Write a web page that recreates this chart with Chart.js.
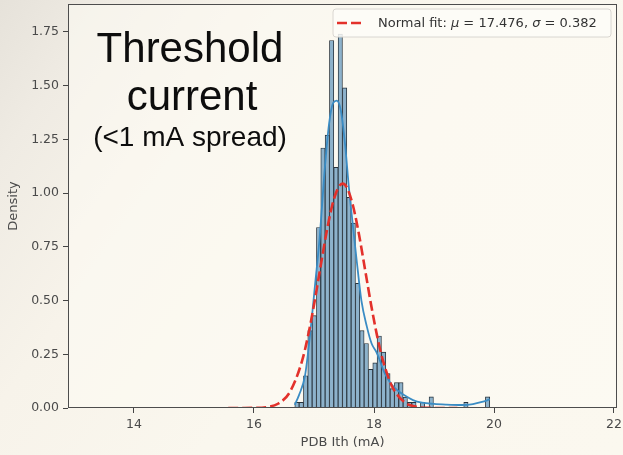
<!DOCTYPE html>
<html><head><meta charset="utf-8">
<script src="https://cdn.jsdelivr.net/npm/chart.js@4.4.1/dist/chart.umd.min.js"></script>
<style>
html,body{margin:0;padding:0;width:623px;height:455px;overflow:hidden;}
body{background:linear-gradient(125deg,#e6e2da 0%,#efebe3 12%,#f7f3ea 30%,#faf7ee 55%,#fbf8ef 100%);}
#wrap{position:relative;width:623px;height:455px;}
canvas{display:block;}
</style></head><body>
<div id="wrap"><canvas id="c" width="623" height="455"></canvas></div>
<script>
// ---- data ----
const binStart = 16.68;
const binWidth = 0.0722;
const densities = [0.026,0.026,0.15,0.36,0.43,0.84,1.21,1.27,1.71,1.12,1.74,1.49,0.98,0.86,0.58,0.36,0.30,0.18,0.21,0.335,0.26,0.16,0.09,0.118,0.118,0.05,0.026,0.026,0,0.026,0,0.052,0,0,0,0,0,0,0,0.026,0,0,0,0,0.052];
const kdeX = [16.68,16.75,16.85,16.93,17.02,17.10,17.17,17.25,17.32,17.38,17.45,17.52,17.58,17.64,17.71,17.79,17.88,17.96,18.04,18.10,18.15,18.22,18.30,18.40,18.50,18.65,18.80,19.0,19.2,19.46,19.65,19.80,19.93];
const kdeY = [0.015,0.06,0.15,0.33,0.58,0.81,1.08,1.32,1.42,1.43,1.38,1.22,1.03,0.87,0.69,0.50,0.38,0.30,0.26,0.22,0.18,0.14,0.107,0.08,0.06,0.037,0.025,0.019,0.016,0.014,0.018,0.028,0.04];
const fitX = [15.57,15.8,16.0,16.2,16.4,16.6,16.8,16.9,17.0,17.1,17.2,17.3,17.4,17.476,17.55,17.65,17.75,17.85,17.95,18.05,18.15,18.3,18.5,18.7,18.9,19.1,19.39];
const fitY = [0.000,0.0001,0.0006,0.0039,0.0198,0.0754,0.218,0.335,0.480,0.643,0.804,0.939,1.023,1.044,1.025,0.941,0.807,0.646,0.483,0.338,0.220,0.102,0.0287,0.0062,0.001,0.0001,0.000];
const xTicks = [14,16,18,20,22];
const yTicks = [0,0.25,0.5,0.75,1.0,1.25,1.5,1.75];
const xLabel = 'PDB Ith (mA)';
const yLabel = 'Density';
const legendParts = [['Normal fit: ',false],['\u03BC',true],[' = 17.476, ',false],['\u03C3',true],[' = 0.382',false]];
const noteLines = ['Threshold','current','(<1 mA spread)'];

// ---- build ----
const histData = densities.map((d,i)=>({x: binStart + binWidth*(i+0.5), y: d}));
const kdeData = kdeX.map((x,i)=>({x, y: kdeY[i]}));
const fitData = fitX.map((x,i)=>({x, y: fitY[i]}));

const RED = '#e3312b';
const tickFont = {family:'DejaVu Sans', size:12.5};

const framePlugin = {
  id:'frame',
  beforeDatasetsDraw(chart){
    const {ctx, chartArea:a} = chart;
    ctx.save();
    ctx.fillStyle = 'rgba(253,251,244,0.55)';
    ctx.fillRect(a.left, a.top, a.right-a.left, a.bottom-a.top);
    ctx.restore();
  },
  afterDraw(chart){
    const {ctx, chartArea:a} = chart;
    ctx.save();
    ctx.strokeStyle = '#4d4d4d';
    ctx.lineWidth = 1;
    ctx.strokeRect(Math.round(a.left)+0.5, Math.round(a.top)+0.5, Math.round(a.right-a.left)-1, Math.round(a.bottom-a.top)-1);
    // legend
    const bx=333, by=9, bw=278, bh=28, r=3;
    ctx.beginPath();
    ctx.moveTo(bx+r,by); ctx.lineTo(bx+bw-r,by); ctx.quadraticCurveTo(bx+bw,by,bx+bw,by+r);
    ctx.lineTo(bx+bw,by+bh-r); ctx.quadraticCurveTo(bx+bw,by+bh,bx+bw-r,by+bh);
    ctx.lineTo(bx+r,by+bh); ctx.quadraticCurveTo(bx,by+bh,bx,by+bh-r);
    ctx.lineTo(bx,by+r); ctx.quadraticCurveTo(bx,by,bx+r,by); ctx.closePath();
    ctx.fillStyle='rgba(253,252,248,0.85)'; ctx.fill();
    ctx.strokeStyle='#d9d6d0'; ctx.lineWidth=1; ctx.stroke();
    ctx.strokeStyle=RED; ctx.lineWidth=2.6; ctx.setLineDash([10,4]);
    ctx.beginPath(); ctx.moveTo(337,23); ctx.lineTo(363,23); ctx.stroke();
    ctx.setLineDash([]);
    let tx = 378;
    ctx.fillStyle='#333'; ctx.textBaseline='middle'; ctx.textAlign='left';
    for (const [t,it] of legendParts){
      ctx.font = (it?'italic ':'') + '13px "DejaVu Sans"';
      ctx.fillText(t, tx, 23.5);
      tx += ctx.measureText(t).width;
    }
    // annotation
    ctx.fillStyle='#0d0d0d'; ctx.textAlign='center'; ctx.textBaseline='alphabetic';
    ctx.font='42px "Liberation Sans", Arial, sans-serif';
    ctx.fillText(noteLines[0], 190, 62);
    ctx.fillText(noteLines[1], 192, 110);
    ctx.font='28px "Liberation Sans", Arial, sans-serif';
    ctx.fillText(noteLines[2], 190, 146);
    ctx.restore();
  }
};

new Chart(document.getElementById('c'), {
  type:'bar',
  data:{
    datasets:[
      {type:'line', data:fitData, borderColor:RED, borderWidth:2.6, borderDash:[10,4], pointRadius:0, cubicInterpolationMode:'monotone', fill:false, order:1},
      {type:'line', data:kdeData, borderColor:'#3a8cc4', borderWidth:1.8, pointRadius:0, cubicInterpolationMode:'monotone', fill:false, order:2},
      {type:'bar', data:histData, backgroundColor:'#8db2cb', borderColor:'#27323b', borderWidth:0.9, borderSkipped:false, barPercentage:1, categoryPercentage:1, grouped:false, order:3}
    ]
  },
  options:{
    responsive:false, animation:false, devicePixelRatio:1,
    layout:{padding:{left:0, top:4, right:6, bottom:0}},
    plugins:{legend:{display:false}, tooltip:{enabled:false}},
    scales:{
      x:{type:'linear', min:12.9, max:22.05, offset:false,
        afterBuildTicks:(s)=>{ s.ticks = xTicks.map(v=>({value:v})); },
        afterFit:(s)=>{ s.height = 47; s.paddingLeft = 0; s.paddingRight = 0; },
        grid:{display:true, drawOnChartArea:false, drawTicks:true, tickLength:5, color:'#444', offset:false},
        border:{display:false},
        ticks:{font:tickFont, color:'#4a4a4a', padding:4, maxRotation:0, callback:(v)=>String(v)},
        title:{display:true, text:xLabel, font:{family:'DejaVu Sans', size:13}, color:'#4a4a4a', padding:{top:0,bottom:5}}
      },
      y:{type:'linear', min:0, max:1.88,
        afterBuildTicks:(s)=>{ s.ticks = yTicks.map(v=>({value:v})); },
        afterFit:(s)=>{ s.width = 68; s.paddingTop = 0; s.paddingBottom = 0; },
        grid:{display:true, drawOnChartArea:false, drawTicks:true, tickLength:5, color:'#444'},
        border:{display:false},
        ticks:{font:tickFont, color:'#4a4a4a', padding:4, callback:(v)=>Number(v).toFixed(2)},
        title:{display:true, text:yLabel, font:{family:'DejaVu Sans', size:13}, color:'#4a4a4a', padding:{top:6,bottom:0}}
      }
    }
  },
  plugins:[framePlugin]
});
</script>
</body></html>
